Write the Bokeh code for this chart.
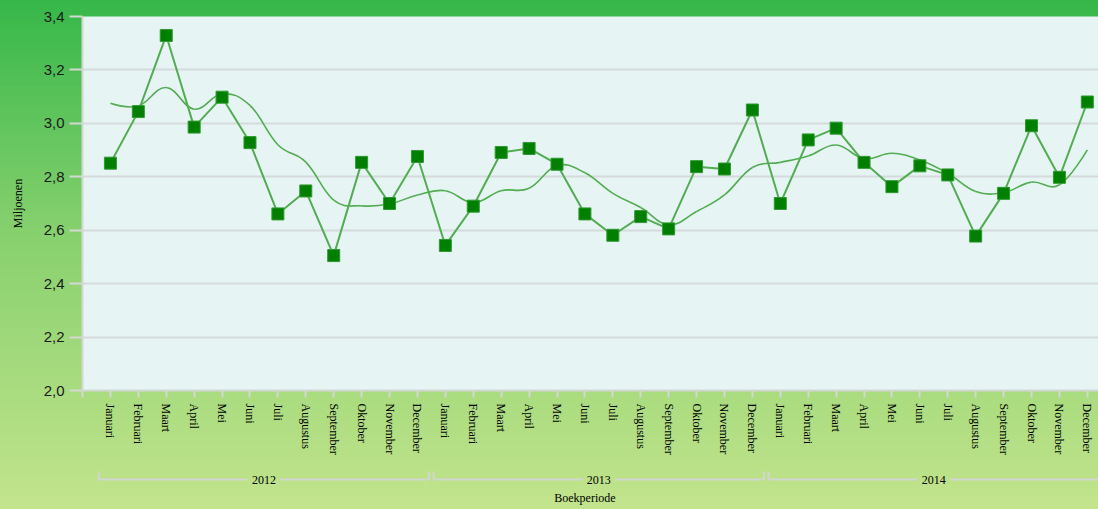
from bokeh.plotting import figure
from bokeh.layouts import column
from bokeh.models import Range1d, FixedTicker, CustomJSTickFormatter, ColumnDataSource
from bokeh.core.properties import value
from bokeh.embed import file_html
from bokeh.resources import INLINE

# ---------------- data ----------------
months = ["Januari", "Februari", "Maart", "April", "Mei", "Juni", "Juli",
          "Augustus", "September", "Oktober", "November", "December"]
years = ["2012", "2013", "2014"]

values_2012 = [2.851, 3.044, 3.329, 2.986, 3.098, 2.928, 2.661, 2.747, 2.505, 2.854, 2.700, 2.876]
values_2013 = [2.543, 2.690, 2.891, 2.906, 2.847, 2.661, 2.581, 2.651, 2.605, 2.838, 2.829, 3.050]
values_2014 = [2.700, 2.938, 2.982, 2.854, 2.763, 2.841, 2.807, 2.578, 2.738, 2.991, 2.798, 3.080]

trend_2012 = [3.075, 3.065, 3.134, 3.053, 3.110, 3.067, 2.920, 2.855, 2.713, 2.691, 2.698, 2.732]
trend_2013 = [2.748, 2.703, 2.748, 2.757, 2.842, 2.815, 2.738, 2.685, 2.620, 2.670, 2.732, 2.835]
trend_2014 = [2.854, 2.878, 2.919, 2.868, 2.888, 2.863, 2.813, 2.745, 2.741, 2.780, 2.770, 2.901]

y_ticks = [2.0, 2.2, 2.4, 2.6, 2.8, 3.0, 3.2, 3.4]

# ---------------- derived ----------------
values = values_2012 + values_2013 + values_2014
trend = trend_2012 + trend_2013 + trend_2014
labels = months * len(years)
xs = list(range(len(values)))

# smooth (spline-like) rendering of the trend using cubic Bezier segments
def bezier_segments(x, y, smooth=0.4):
    n = len(x)
    slopes = []
    for i in range(n):
        if 0 < i < n - 1:
            slopes.append((y[i + 1] - y[i - 1]) / (x[i + 1] - x[i - 1]))
        else:
            slopes.append(None)
    seg = dict(x0=[], y0=[], x1=[], y1=[], cx0=[], cy0=[], cx1=[], cy1=[])
    for i in range(n - 1):
        dx = x[i + 1] - x[i]
        if slopes[i] is None:
            c0x, c0y = x[i], y[i]
        else:
            c0x, c0y = x[i] + smooth * dx, y[i] + smooth * dx * slopes[i]
        if slopes[i + 1] is None:
            c1x, c1y = x[i + 1], y[i + 1]
        else:
            c1x, c1y = x[i + 1] - smooth * dx, y[i + 1] - smooth * dx * slopes[i + 1]
        seg["x0"].append(x[i]); seg["y0"].append(y[i])
        seg["x1"].append(x[i + 1]); seg["y1"].append(y[i + 1])
        seg["cx0"].append(c0x); seg["cy0"].append(c0y)
        seg["cx1"].append(c1x); seg["cy1"].append(c1y)
    return seg

LINE_GREEN = "#52ad52"
MARK_GREEN = "#007f00"
AXIS_GRAY = "#d4d8d4"

x_range = Range1d(-1, 35.4)

# ---------------- main plot ----------------
p = figure(width=1098, height=460, output_backend="svg", toolbar_location=None,
           x_range=x_range, y_range=Range1d(2.0, 3.4),
           min_border_left=82, min_border_right=0, min_border_top=16, min_border_bottom=70)
p.border_fill_color = None
p.background_fill_color = "#e6f4f4"
p.outline_line_color = None

p.bezier(source=ColumnDataSource(bezier_segments(xs, trend)),
         x0="x0", y0="y0", x1="x1", y1="y1", cx0="cx0", cy0="cy0", cx1="cx1", cy1="cy1",
         line_color=LINE_GREEN, line_width=1.6)
p.line(xs, values, line_color=LINE_GREEN, line_width=2)
p.scatter(xs, values, marker="square", size=12, fill_color=MARK_GREEN,
          line_color="#2f9a2f", line_width=1)

# y axis
p.yaxis.ticker = FixedTicker(ticks=y_ticks)
p.yaxis.formatter = CustomJSTickFormatter(code="return tick.toFixed(1).replace('.', ',');")
p.yaxis.axis_label = "Miljoenen"
p.yaxis.axis_label_text_font = "Liberation Serif"
p.yaxis.axis_label_text_font_size = "12px"
p.yaxis.axis_label_text_font_style = "normal"
p.yaxis.axis_label_text_color = "#000000"
p.yaxis.axis_label_standoff = 16
p.yaxis.major_label_text_font = "Liberation Sans"
p.yaxis.major_label_text_font_size = "15px"
p.yaxis.major_label_text_color = "#1a1a1a"
p.yaxis.major_label_standoff = 5
p.yaxis.major_tick_in = 0
p.yaxis.major_tick_out = 13
p.yaxis.major_tick_line_color = AXIS_GRAY
p.yaxis.major_tick_line_width = 2
p.yaxis.minor_tick_line_color = None
p.yaxis.axis_line_color = AXIS_GRAY
p.yaxis.axis_line_width = 2

# x axis
p.xaxis.ticker = FixedTicker(ticks=list(range(-1, len(values))))
p.xaxis.formatter = CustomJSTickFormatter(args=dict(labels=labels), code="""
    const i = Math.round(tick);
    return (i >= 0 && i < labels.length) ? labels[i] : '';
""")
p.xaxis.major_label_orientation = "vertical"
p.xaxis.major_label_text_font = "Liberation Serif"
p.xaxis.major_label_text_font_size = "12px"
p.xaxis.major_label_text_color = "#000000"
p.xaxis.major_label_standoff = 6
p.xaxis.major_tick_in = 0
p.xaxis.major_tick_out = 7
p.xaxis.major_tick_line_color = AXIS_GRAY
p.xaxis.major_tick_line_width = 2
p.xaxis.minor_tick_line_color = None
p.xaxis.axis_line_color = AXIS_GRAY
p.xaxis.axis_line_width = 2

p.xgrid.visible = False
p.ygrid.grid_line_color = "#d6dada"
p.ygrid.grid_line_width = 2

# ---------------- group (year) axis below ----------------
g = figure(width=1098, height=49, output_backend="svg", toolbar_location=None,
           x_range=x_range, y_range=Range1d(49, 0),
           x_axis_type=None, y_axis_type=None,
           min_border_left=82, min_border_right=0, min_border_top=0, min_border_bottom=0)
g.border_fill_color = None
g.background_fill_color = None
g.outline_line_color = None
g.grid.visible = False

n = len(months)
half = 0.42
gap = 0.58
line_y = 19
tick_top = 11
bx0, bx1, by0, by1 = [], [], [], []
yc, yl = [], []
for k, yr in enumerate(years):
    s = k * n - half
    e = (k + 1) * n - 1 + half
    c = (s + e) / 2
    yc.append(c); yl.append(yr)
    # left part, right part, end ticks
    bx0 += [s, c + gap, s, e]
    bx1 += [c - gap, e, s, e]
    by0 += [line_y, line_y, line_y, line_y]
    by1 += [line_y, line_y, tick_top, tick_top]
g.segment(x0=bx0, y0=by0, x1=bx1, y1=by1, line_color="#d2d6d2", line_width=2)
g.text(x=yc, y=[line_y] * len(yc), text=yl, text_align="center", text_baseline="middle",
       text_font=value("Liberation Serif"), text_font_size="12px", text_color="#000000")
g.text(x=[17.0], y=[37], text=["Boekperiode"], text_align="center", text_baseline="middle",
       text_font=value("Liberation Serif"), text_font_size="12px", text_color="#000000")

layout = column(p, g, spacing=0,
                styles={"background": "linear-gradient(180deg, #36b749 0%, #86d06e 45%, #c3e48c 100%)"})

open("out.html", "w").write(file_html(layout, INLINE))
